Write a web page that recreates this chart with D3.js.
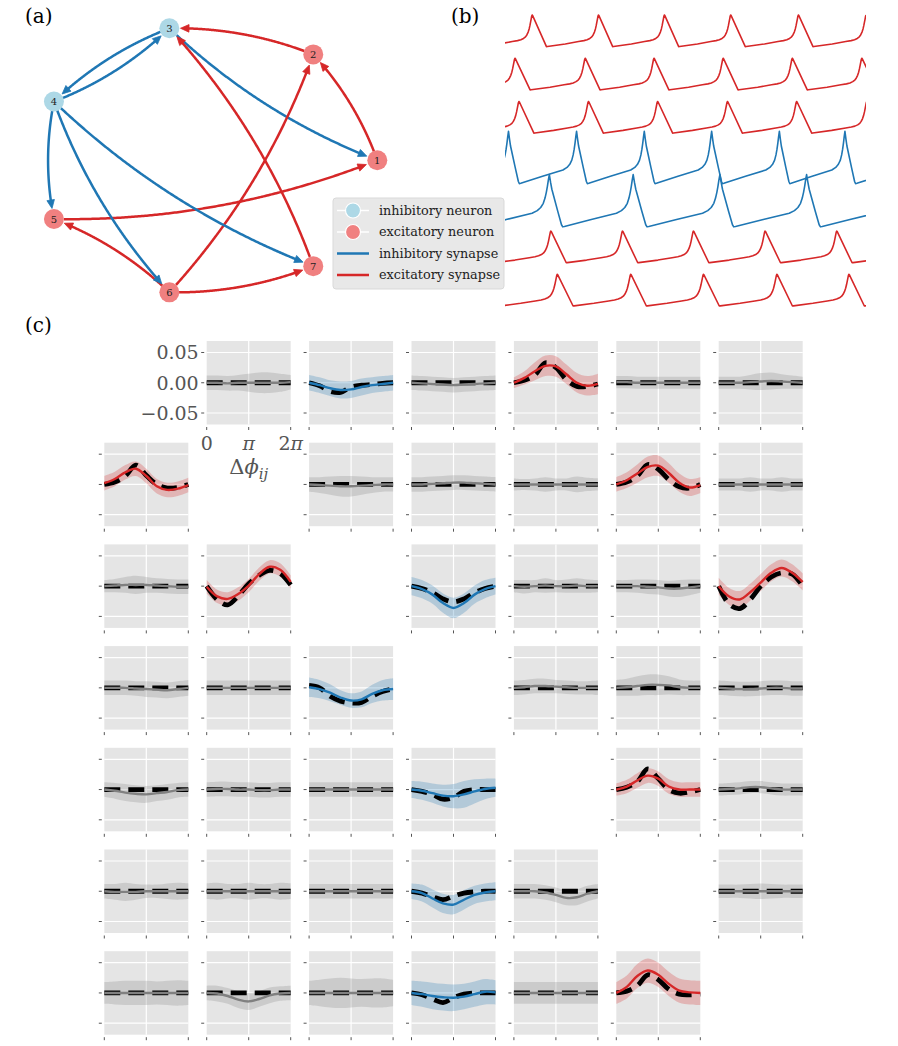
<!DOCTYPE html>
<html>
<head>
<meta charset="utf-8">
<script src="https://cdn.jsdelivr.net/npm/d3@7"></script>
<style>
  body { margin: 0; background: #fff; }
  svg { display: block; font-family: "DejaVu Serif", serif; }
</style>
</head>
<body>
<svg id="fig" width="898" height="1046"></svg>
<script>
// ---------------- data ----------------
const neuronIds = [1, 2, 3, 4, 5, 6, 7];
const neuronKind = ['exc', 'exc', 'inh', 'inh', 'exc', 'exc', 'exc'];

// [source, target]
const synapses = [[3,1],[5,1],[1,2],[6,2],[2,3],[4,3],[7,3],[3,4],[4,5],[6,5],[4,6],[4,7],[6,7]];

const legendLabels = ['inhibitory neuron', 'excitatory neuron', 'inhibitory synapse', 'excitatory synapse'];

// (b) spike (peak) times per neuron, time axis 0..100
const spikeTimes = [
  [-6.3, 14.1, 34.6, 54.9, 75.4, 95.5, 115.5],        // 1
  [-7.7, 12.3, 32.3, 52.1, 72.1, 92.1, 112],          // 2
  [-12.2, 11.9, 35.3, 59.5, 83.7, 107.9],             // 3
  [-18.5, 0.5, 19.5, 38.4, 57.2, 76.1, 94.4, 113],    // 4
  [-16, 3.4, 22.8, 42.1, 61.6, 80.9, 100.5],          // 5
  [-17, 2.3, 21.9, 41.1, 60.4, 79.7, 99.1, 118.5],    // 6
  [-11.4, 7.1, 25.6, 44.0, 62.5, 81.4, 100.3]         // 7
];
const traceOrder = [7, 6, 5, 4, 3, 2, 1];
// one cycle, peak to peak: [fraction of interval, normalised voltage]
const excShape = [[0,1],[0.006,0.99],[0.216,0],[0.23,0.004],[0.5,0.085],[0.7,0.16],[0.78,0.19],[0.83,0.22],[0.87,0.26],[0.9,0.31],
  [0.92,0.37],[0.94,0.46],[0.955,0.56],[0.967,0.67],[0.977,0.78],[0.986,0.88],[0.993,0.96],[1,1]];
const inhShape = [[0,1],[0.015,0.85],[0.03,0.72],[0.05,0.6],[0.1,0.3],[0.145,0.04],[0.16,0],[0.18,0.005],
  [0.5,0.14],[0.8,0.26],[0.86,0.31],[0.9,0.37],[0.93,0.45],[0.95,0.55],[0.965,0.66],[0.978,0.78],[0.988,0.89],[1,1]];
const traceLevels = { exc: [0, 1], inh: [-0.23, 1.42] };
const traceSpacing = 1.366;

// (c) coupling functions, units of 1e-3, sampled at phase 0, pi/4, ..., 2pi
const yTickValues = [50, 0, -50];
const yTickLabels = ['0.05', '0.00', '\u22120.05'];
const xTickLabels = ['0', '\u03c0', '2\u03c0'];

const estMean = [
  [null,
   [0,0,-1,0,0,0,0,0,1],
   [0,-4,-9,-12,-11,-7,-4,-2,0],
   [0,-1,-2,-3,-4,-3,-2,-1,0],
   [0,8,19,28,27,14,0,-5,-2],
   [1,1,0,0,0,0,0,0,0],
   [0,0,0,1,2,3,2,1,0]],
  [[2,9,20,26,14,-3,-9,-7,-1],
   null,
   [0,-1,-2,-3,-3,-2,-1,0,0],
   [0,0,1,2,3,3,2,1,0],
   [0,0,0,0,0,0,0,0,0],
   [0,7,18,29,31,19,3,-5,-1],
   [0,0,0,0,0,0,0,0,0]],
  [[0,1,2,2,2,1,0,-1,-1],
   [-1,-17,-21,-13,1,20,32,27,7],
   null,
   [0,-5,-14,-28,-36,-28,-14,-5,0],
   [0,-1,0,1,0,0,1,0,0],
   [0,0,0,-1,-2,-4,-4,-2,0],
   [0,-17,-22,-10,6,22,30,22,7]],
  [[0,0,0,-1,-2,-3,-4,-2,0],
   [0,0,0,0,0,0,0,0,0],
   [1,-2,-8,-16,-21,-19,-10,-4,-2],
   null,
   [0,1,3,3,2,1,0,0,0],
   [0,1,3,5,5,4,1,0,0],
   [0,-1,-2,-2,-1,0,0,-1,-1]],
  [[0,-2,-5,-7,-8,-6,-4,-1,0],
   [0,1,1,0,0,-1,-1,0,0],
   [0,0,0,0,0,0,0,0,0],
   [0,-2,-6,-10,-11,-8,-3,1,3],
   null,
   [0,5,15,23,18,5,0,0,0],
   [0,1,2,4,4,2,0,0,0]],
  [[0,-1,-1,-1,0,0,0,0,0],
   [0,0,0,0,0,0,0,0,0],
   [0,0,0,0,0,0,0,0,0],
   [0,-3,-12,-20,-22,-14,-6,-2,0],
   [0,0,0,-2,-6,-11,-10,-4,0],
   null,
   [0,0,0,0,0,0,0,0,0]],
  [[0,0,0,0,0,0,0,0,0],
   [0,-1,-5,-11,-14,-10,-4,-1,0],
   [0,0,0,0,0,0,0,0,0],
   [0,-2,-5,-7,-8,-6,-2,2,1],
   [0,0,0,0,0,0,0,0,0],
   [0,10,28,37,30,15,4,1,0],
   null]
];

const estBand = [
  [null,
   [12,12,12,13,15,17,17,15,12],
   [13,13,13,14,14,14,13,13,13],
   [12,12,12,12,12,12,12,12,12],
   [9,11,15,17,17,16,16,16,17],
   [10,10,10,10,10,10,10,10,10],
   [10,10,10,12,14,14,12,11,10]],
  [[12,12,12,12,12,12,12,12,12],
   null,
   [12,13,15,17,17,15,13,12,12],
   [12,12,12,12,12,12,12,12,12],
   [10,9,10,12,10,10,13,11,10],
   [12,13,15,17,17,16,15,14,13],
   [10,10,10,12,10,10,12,10,10]],
  [[10,11,13,15,13,12,12,12,12],
   [11,11,11,11,11,11,11,11,11],
   null,
   [15,15,15,16,17,16,15,15,14],
   [10,11,10,12,10,11,12,11,10],
   [10,10,11,12,12,13,14,13,11],
   [14,14,14,14,14,14,14,14,14]],
  [[12,12,12,12,13,13,13,13,13],
   [12,12,12,12,12,12,12,12,12],
   [16,15,14,12,12,13,15,17,18],
   null,
   [12,12,12,12,11,11,11,11,12],
   [13,14,16,17,17,15,13,12,12],
   [12,12,12,12,12,12,12,12,12]],
  [[12,13,14,14,14,13,13,12,12],
   [12,12,12,12,12,12,12,12,12],
   [12,12,12,12,12,12,12,12,12],
   [14,15,16,18,20,22,20,17,15],
   null,
   [10,11,12,12,12,12,12,12,12],
   [10,10,10,10,10,10,10,10,10]],
  [[12,13,15,13,11,11,13,14,13],
   [13,14,12,12,14,12,12,14,13],
   [12,12,12,12,12,12,12,12,12],
   [13,14,15,16,16,16,15,15,15],
   [12,12,12,12,12,12,13,13,12],
   null,
   [11,11,11,12,13,12,11,11,11]],
  [[18,19,20,20,20,19,20,21,20],
   [12,13,13,14,14,13,13,12,12],
   [20,22,24,25,24,23,24,24,22],
   [20,21,22,22,22,21,21,21,20],
   [18,18,18,18,18,18,18,18,18],
   [18,19,20,20,20,20,20,20,20],
   null]
];

// true coupling for every synapse, same order as `synapses`
const trueCurves = [
  [0,-5,-14,-16,-7,-4,-3,-1,0],     // 3>1
  [0,4,13,33,25,5,-6,-6,-2],        // 5>1
  [0,4,14,32,15,0,-6,-5,0],         // 1>2
  [0,4,14,33,25,8,-4,-6,0],         // 6>2
  [0,-22,-31,-16,4,18,26,21,2],     // 2>3
  [0,-4,-11,-21,-26,-21,-11,-4,0],  // 4>3
  [0,-30,-37,-22,0,15,22,20,0],     // 7>3
  [4,0,-14,-22,-25,-24,-14,-6,-2],  // 3>4
  [0,-3,-8,-16,-13,-3,0,0,0],       // 4>5
  [0,4,13,34,18,0,-6,-4,0],         // 6>5
  [0,-3,-9,-14,-8,-3,-1,0,0],       // 4>6
  [0,-3,-10,-16,-8,-2,0,0,0],       // 4>7
  [0,3,12,30,22,6,-2,-3,-2]         // 6>7
];
const noCoupling = [0,0,0,0,0,0,0,0,0];

// ---------------- style ----------------
const colors = { inh: '#1f77b4', exc: '#d62728', none: '#808080' };
const nodeFill = { inh: '#add8e6', exc: '#f08080' };

const svg = d3.select('#fig');

const panelLabel = (x, y, t) => svg.append('text')
  .attr('x', x).attr('y', y).attr('font-size', 20).attr('fill', '#000').text(t);
panelLabel(25, 23, '(a)');
panelLabel(451, 23, '(b)');
panelLabel(25, 332, '(c)');

// ---------------- (a) network ----------------
const gx = d3.scaleLinear().domain([-1, 1]).range([37.1, 377.3]);
const gy = d3.scaleLinear().domain([-1, 1]).range([295.7, 24.9]);
const nodeR = 10;
const nodePos = neuronIds.map((id, k) => {
  const a = 2 * Math.PI * k / neuronIds.length;
  return [gx(Math.cos(a)), gy(Math.sin(a))];
});

const gNet = svg.append('g');
const rad = 0.1;
synapses.forEach(([src, tgt]) => {
  const s = nodePos[src - 1], t = nodePos[tgt - 1];
  const dx = t[0] - s[0], dy = t[1] - s[1];
  const c = [(s[0] + t[0]) / 2 - rad * dy, (s[1] + t[1]) / 2 + rad * dx];
  const pts = d3.range(0, 1.0001, 0.005).map(u => [
    (1 - u) * (1 - u) * s[0] + 2 * (1 - u) * u * c[0] + u * u * t[0],
    (1 - u) * (1 - u) * s[1] + 2 * (1 - u) * u * c[1] + u * u * t[1]
  ]).filter(p => Math.hypot(p[0] - s[0], p[1] - s[1]) > nodeR - 1 &&
                 Math.hypot(p[0] - t[0], p[1] - t[1]) > nodeR + 0.5);
  const tip = pts[pts.length - 1];
  const back = pts[pts.length - 4];
  let ux = tip[0] - back[0], uy = tip[1] - back[1];
  const L = Math.hypot(ux, uy); ux /= L; uy /= L;
  const headL = 8.5, headW = 3.8;
  const base = [tip[0] - ux * headL, tip[1] - uy * headL];
  const line = pts.filter(p => Math.hypot(p[0] - t[0], p[1] - t[1]) > nodeR + headL - 1);
  const col = colors[neuronKind[src - 1]];
  gNet.append('path')
    .attr('d', d3.line()(line))
    .attr('fill', 'none').attr('stroke', col).attr('stroke-width', 2.5);
  gNet.append('path')
    .attr('d', d3.line()([tip, [base[0] - uy * headW, base[1] + ux * headW], [base[0] + uy * headW, base[1] - ux * headW]]) + 'Z')
    .attr('fill', col).attr('stroke', col).attr('stroke-width', 0.8);
});

const nodes = gNet.selectAll('g.node').data(neuronIds).enter().append('g')
  .attr('transform', (d, k) => `translate(${nodePos[k][0]},${nodePos[k][1]})`);
nodes.append('circle').attr('r', nodeR).attr('fill', (d, k) => nodeFill[neuronKind[k]]);
nodes.append('text').attr('text-anchor', 'middle').attr('dy', '0.36em')
  .attr('font-size', 10).attr('fill', '#222').text(d => d);

// legend
const leg = svg.append('g').attr('transform', 'translate(333,198)');
leg.append('rect').attr('width', 171).attr('height', 91).attr('rx', 3)
  .attr('fill', '#e8e8e8').attr('stroke', '#d9d9d9').attr('stroke-width', 1);
const legY = d3.scalePoint().domain(legendLabels).range([12.5, 77]);
legendLabels.forEach((lab, k) => {
  const y = legY(lab);
  if (k < 2) {
    leg.append('line').attr('x1', 4).attr('x2', 36).attr('y1', y).attr('y2', y)
      .attr('stroke', '#fff').attr('stroke-width', 1.5);
    leg.append('circle').attr('cx', 20).attr('cy', y).attr('r', 7.5)
      .attr('fill', nodeFill[k === 0 ? 'inh' : 'exc']).attr('stroke', '#fff').attr('stroke-width', 1.2);
  } else {
    leg.append('line').attr('x1', 4).attr('x2', 36).attr('y1', y).attr('y2', y)
      .attr('stroke', colors[k === 2 ? 'inh' : 'exc']).attr('stroke-width', 2.5);
  }
  leg.append('text').attr('x', 46).attr('y', y).attr('dy', '0.32em')
    .attr('font-size', 12.8).attr('fill', '#222').text(lab);
});

// ---------------- (b) voltage traces ----------------
const tx = d3.scaleLinear().domain([0, 100]).range([506.7, 865]);
const ty = d3.scaleLinear().domain([0, 6 * traceSpacing + 1]).range([306, 15]);
svg.append('clipPath').attr('id', 'clipB').append('rect')
  .attr('x', 505).attr('y', 0).attr('width', 361).attr('height', 320);
const gTr = svg.append('g').attr('clip-path', 'url(#clipB)');
const traceLine = d3.line().x(d => tx(d[0])).y(d => ty(d[1]));

traceOrder.forEach((id, row) => {
  const kind = neuronKind[id - 1];
  const shape = kind === 'exc' ? excShape : inhShape;
  const [lo, hi] = traceLevels[kind];
  const off = (6 - row) * traceSpacing;
  const spikes = spikeTimes[id - 1];
  const pts = [];
  for (let k = 0; k < spikes.length - 1; k++) {
    const a = spikes[k], b = spikes[k + 1];
    shape.forEach(([f, v], idx) => {
      if (k > 0 && idx === 0) return;
      pts.push([a + f * (b - a), off + lo + v * (hi - lo)]);
    });
  }
  gTr.append('path').attr('d', traceLine(pts))
    .attr('fill', 'none').attr('stroke', colors[kind]).attr('stroke-width', 1.6)
    .attr('stroke-linejoin', 'round');
});

// ---------------- (c) coupling grid ----------------
const cellW = 84, cellH = 83.5;
const colX = d3.scaleBand().domain(d3.range(7)).range([104.3, 104.3 + 6 * 102.4 + cellW])
  .paddingInner((102.4 - cellW) / 102.4).paddingOuter(0);
const rowY = d3.scaleBand().domain(d3.range(7)).range([341, 341 + 6 * 101.7 + cellH])
  .paddingInner((101.7 - cellH) / 101.7).paddingOuter(0);
const px = d3.scaleLinear().domain([0, 2 * Math.PI]).range([0, cellW]);
const py = d3.scaleLinear().domain([-69, 69]).range([cellH, 0]);
const phases = d3.range(9).map(k => k * Math.PI / 4);
const xTickValues = [0, Math.PI, 2 * Math.PI];

const curve = d3.curveCatmullRom.alpha(0.5);
const meanLine = d3.line().x((d, k) => px(phases[k])).y(d => py(d)).curve(curve);
const bandArea = d3.area().x(d => px(phases[d.k]))
  .y0(d => py(d.m - d.b)).y1(d => py(d.m + d.b)).curve(curve);

for (let i = 0; i < 7; i++) {
  for (let j = 0; j < 7; j++) {
    if (i === j) continue;
    const g = svg.append('g').attr('transform', `translate(${colX(j)},${rowY(i)})`);
    const sIdx = synapses.findIndex(([s, t]) => s === j + 1 && t === i + 1);
    const kind = sIdx < 0 ? 'none' : neuronKind[j];
    const col = colors[kind];
    const truth = sIdx < 0 ? noCoupling : trueCurves[sIdx];
    const mean = estMean[i][j], band = estBand[i][j];

    g.append('rect').attr('width', cellW).attr('height', cellH).attr('fill', '#e5e5e5');
    yTickValues.forEach(v => g.append('line').attr('x1', 0).attr('x2', cellW)
      .attr('y1', py(v)).attr('y2', py(v)).attr('stroke', '#fff').attr('stroke-width', 1.2));
    g.append('line').attr('x1', px(Math.PI)).attr('x2', px(Math.PI)).attr('y1', 0).attr('y2', cellH)
      .attr('stroke', '#fff').attr('stroke-width', 1.2);
    // ticks
    yTickValues.forEach(v => g.append('line').attr('x1', -5.5).attr('x2', -2.5)
      .attr('y1', py(v)).attr('y2', py(v)).attr('stroke', '#555').attr('stroke-width', 1));
    xTickValues.forEach(v => g.append('line').attr('x1', px(v)).attr('x2', px(v))
      .attr('y1', cellH + 2.5).attr('y2', cellH + 5.5).attr('stroke', '#555').attr('stroke-width', 1));

    g.append('path').attr('d', bandArea(mean.map((m, k) => ({ k, m, b: band[k] }))))
      .attr('fill', col).attr('fill-opacity', 0.25);
    g.append('path').attr('d', meanLine(truth)).attr('fill', 'none')
      .attr('stroke', '#000').attr('stroke-width', 4.8).attr('stroke-dasharray', '16,8');
    g.append('path').attr('d', meanLine(mean)).attr('fill', 'none')
      .attr('stroke', col).attr('stroke-width', 2.4);

    if (i === 0 && j === 1) {
      yTickValues.forEach((v, k) => g.append('text').attr('x', -8).attr('y', py(v))
        .attr('dy', '0.36em').attr('text-anchor', 'end').attr('font-size', 19)
        .attr('fill', '#555').text(yTickLabels[k]));
      xTickValues.forEach((v, k) => {
        const t = g.append('text').attr('x', px(v)).attr('y', cellH + 25)
          .attr('text-anchor', 'middle').attr('font-size', 19).attr('fill', '#555');
        if (k === 0) t.text('0');
        else {
          if (k === 2) t.append('tspan').text('2');
          t.append('tspan').attr('font-style', 'italic').text('\u03c0');
        }
      });
      const lab = g.append('text').attr('x', cellW / 2).attr('y', cellH + 49)
        .attr('text-anchor', 'middle').attr('font-size', 21).attr('fill', '#555');
      lab.append('tspan').text('\u0394');
      lab.append('tspan').attr('font-style', 'italic').text('\u03d5');
      lab.append('tspan').attr('font-style', 'italic').attr('font-size', 15).attr('dy', 5).text('ij');
    }
  }
}
</script>
</body>
</html>
